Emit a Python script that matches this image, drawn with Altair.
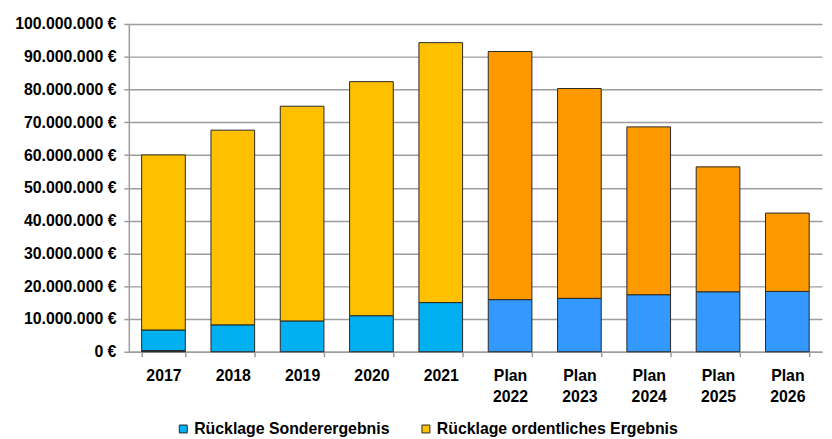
import altair as alt
import pandas as pd

# values in million euros
years = ["2017", "2018", "2019", "2020", "2021",
         "Plan 2022", "Plan 2023", "Plan 2024", "Plan 2025", "Plan 2026"]
is_plan = [False, False, False, False, False, True, True, True, True, True]
sonstiges = [0.35, 0, 0, 0, 0, 0, 0, 0, 0, 0]
sonder = [6.3, 8.2, 9.4, 11.0, 15.0, 15.9, 16.3, 17.4, 18.3, 18.4]
ordentlich = [53.4, 59.4, 65.5, 71.4, 79.3, 75.7, 64.0, 51.2, 38.1, 23.9]

legend_names = ["Rücklage Sonderergebnis", "Rücklage ordentliches Ergebnis"]
keys = ["Rücklage Sonderergebnis", "Rücklage ordentliches Ergebnis",
        "Plan Sonderergebnis", "Plan ordentliches Ergebnis", "Sonstiges"]
colors = ["#00B0F0", "#FFC000", "#3399FF", "#FF9900", "#1F2F3F"]

rows = []
for i, y in enumerate(years):
    p = is_plan[i]
    if sonstiges[i] > 0:
        rows.append({"Jahr": y, "key": "Sonstiges", "value": sonstiges[i] * 1e6, "ord": 0})
    rows.append({"Jahr": y, "key": "Plan Sonderergebnis" if p else "Rücklage Sonderergebnis",
                 "value": sonder[i] * 1e6, "ord": 1})
    rows.append({"Jahr": y, "key": "Plan ordentliches Ergebnis" if p else "Rücklage ordentliches Ergebnis",
                 "value": ordentlich[i] * 1e6, "ord": 2})
df = pd.DataFrame(rows)

chart = alt.Chart(df).mark_bar(stroke="#262626", strokeWidth=1).encode(
    x=alt.X("Jahr:N", sort=years, title=None,
            scale=alt.Scale(paddingInner=0.37, paddingOuter=0.185),
            axis=alt.Axis(labelAngle=0, labelExpr="split(datum.label, ' ')",
                          tickBand="extent", tickSize=5, labelPadding=11,
                          labelLineHeight=21, labelFontSize=16, labelFontWeight="bold",
                          labelColor="#000000", domainColor="#9d9d9d", tickColor="#9d9d9d",
                          domainWidth=1.5, tickWidth=1.5)),
    y=alt.Y("value:Q", stack="zero", title=None,
            scale=alt.Scale(domain=[0, 100000000], nice=False),
            axis=alt.Axis(values=[i * 10000000 for i in range(11)],
                          labelExpr="replace(format(datum.value, ',.0f'), regexp(',', 'g'), '.') + ' €'",
                          tickSize=5, labelPadding=8, labelFontSize=16, labelFontWeight="bold",
                          labelColor="#000000", grid=True, gridColor="#9d9d9d", gridWidth=1.5,
                          domainColor="#9d9d9d", tickColor="#9d9d9d", domainWidth=1.5, tickWidth=1.5)),
    color=alt.Color("key:N", scale=alt.Scale(domain=keys, range=colors),
                    legend=alt.Legend(values=legend_names, title=None, orient="none",
                                      direction="horizontal", legendX=47, legendY=401,
                                      symbolType="square", symbolSize=64,
                                      symbolStrokeColor="#262626", symbolStrokeWidth=1,
                                      symbolOpacity=1,
                                      labelFontSize=16, labelFontWeight="bold",
                                      labelColor="#000000", columnPadding=28, labelOffset=3,
                                      labelLimit=400)),
    order=alt.Order("ord:Q", sort="ascending"),
).properties(
    width=700, height=331,
    autosize=alt.AutoSizeParams(type="none"),
    padding={"left": 122, "top": 14, "right": 2, "bottom": 86},
).configure(
    font="Liberation Sans",
    background="#ffffff",
).configure_view(
    stroke=None,
)

chart.save("out.html", embed_options={"renderer": "svg", "actions": False})
